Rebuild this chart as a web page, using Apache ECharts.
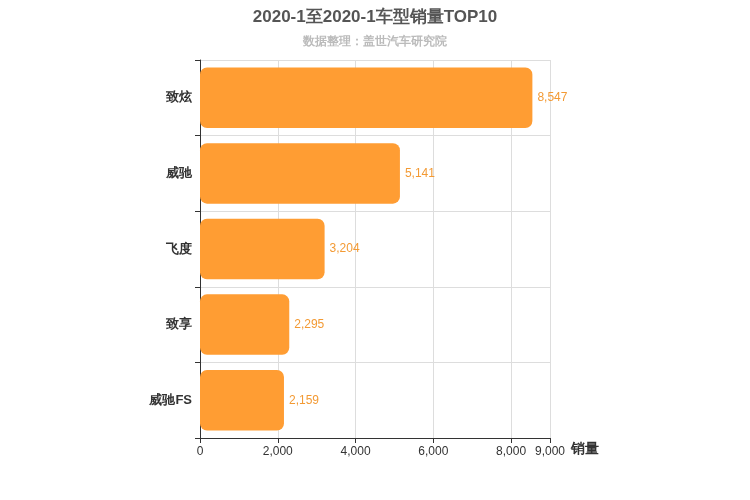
<!DOCTYPE html>
<html>
  <head>
    <meta charset="utf-8">
    <title>车型销量TOP10</title>
    <script src="https://cdn.jsdelivr.net/npm/echarts@6/dist/echarts.min.js"></script>
  </head>
  <body style="margin:0">
      <div id="main" style="width:750px; height:500px;"></div>
      <script>
          var models = ['致炫', '威驰', '飞度', '致享', '威驰FS']
          var sales = [8547, 5141, 3204, 2295, 2159]

          var myChart = echarts.init(document.querySelector('#main'))

          var option = {
              title: {
                  text: '2020-1至2020-1车型销量TOP10',
                  subtext: '数据整理：盖世汽车研究院',
                  left: 'center',
                  top: 4,
                  itemGap: 10,
                  textStyle: {fontSize: 17, fontWeight: 'bold', color: '#555'},
                  subtextStyle: {fontSize: 12, fontWeight: 'bold', color: '#bbb'}
              },
              grid: {left: 200, right: 200, top: 60, bottom: 62},
              xAxis: {
                  type: 'value',
                  min: 0,
                  max: 9000,
                  interval: 2000,
                  name: '销量',
                  nameGap: 15,
                  nameTextStyle: {fontSize: 14, fontWeight: 'bold', color: '#333', verticalAlign: 'top', padding: [4, 0, 0, 0]},
                  axisLine: {show: true, lineStyle: {color: '#333'}},
                  axisTick: {show: true},
                  axisLabel: {color: '#333', fontSize: 12, showMaxLabel: true},
                  splitLine: {show: true, lineStyle: {color: '#ddd'}}
              },
              yAxis: {
                  type: 'category',
                  inverse: true,
                  data: models,
                  axisLine: {lineStyle: {color: '#333'}},
                  axisTick: {show: true},
                  axisLabel: {color: '#333', fontSize: 13, fontWeight: 'bold'},
                  splitLine: {show: true, lineStyle: {color: '#ddd'}}
              },
              series: [{
                  type: 'bar',
                  data: sales,
                  barWidth: '80%',
                  itemStyle: {color: '#FF9D33', borderRadius: 7},
                  label: {
                      show: true,
                      position: 'right',
                      color: '#F39A34',
                      fontSize: 12,
                      formatter: function (p) { return p.value.toLocaleString('en-US') }
                  }
              }]
          }
          myChart.setOption(option)
      </script>
  </body>
</html>
